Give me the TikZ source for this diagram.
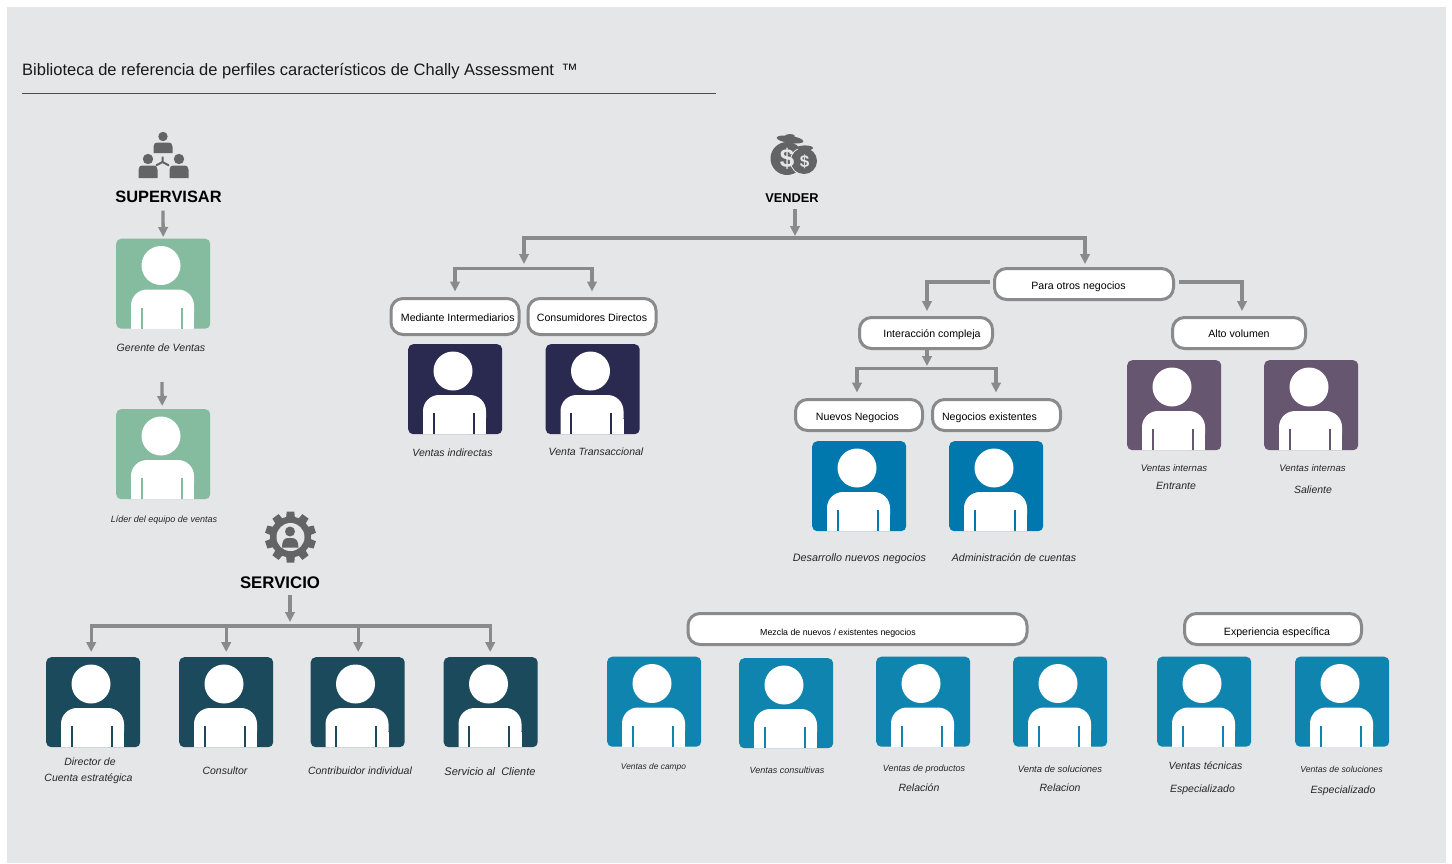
\documentclass[tikz,border=0pt]{standalone}
\usepackage{fontspec}
\setmainfont{Liberation Sans}
\usetikzlibrary{arrows.meta,calc}
\definecolor{bgc}{HTML}{E5E6E8}
\definecolor{linec}{HTML}{8A8A8A}
\definecolor{iconc}{HTML}{636466}
\definecolor{cgreen}{HTML}{85BB9F}
\definecolor{cnavy}{HTML}{2A2950}
\definecolor{cblue}{HTML}{0077AD}
\definecolor{cpurple}{HTML}{66566F}
\definecolor{cteal}{HTML}{1A4A5C}
\definecolor{clight}{HTML}{0F84AF}
\tikzset{
  arr/.style={draw=linec,line width=3.3pt,-{Triangle[length=10pt,width=9.5pt]}},
  pill/.style={draw=linec,line width=3pt,fill=white,rounded corners=12pt,inner sep=0pt,text=black,font=\fontsize{10.6}{12}\selectfont},
  cardbox/.style={anchor=north west,minimum width=94pt,minimum height=90pt,inner sep=0pt,rounded corners=5pt,draw=none},
  lab/.style={inner sep=0pt,yshift=-1pt,font=\fontsize{10.5}{12}\selectfont\itshape,text=black!85},
  head/.style={inner sep=0pt,font=\bfseries,text=black},
  icon/.style={fill=iconc,draw=none}
}
% text inside a pill: shift in x from the centre, raise of the baseline, text
\newcommand{\ptxt}[3]{\raisebox{#2}[0pt][0pt]{\hspace*{#1}\hspace*{#1}#3}}
% #1 name, #2 x, #3 y, #4 colour
\newcommand{\personcard}[4]{%
  \node[cardbox,fill=#4] (#1) at (#2,#3) {};
  \begin{scope}[shift={(#2,#3)}]
    \fill[white] (45,27) circle (19.5);
    \fill[white,rounded corners=16pt] (15,90) -- (15,51) -- (78,51) -- (78,90) [sharp corners] -- cycle;
    \fill[white] (15,75) rectangle (78,90);
    \fill[#4] (24.7,69) rectangle (26.9,90);
    \fill[#4] (64.7,69) rectangle (66.9,90);
  \end{scope}}
% small icon figure: x centre, y of head centre, head r, half width, body top, body bottom
\newcommand{\iconperson}[6]{%
  \fill[icon] (#1,#2) circle (#3);
  \fill[icon] (#1-#4,#6) -- (#1-#4,#5+4) .. controls (#1-#4,#5+1) and (#1-#4+2,#5) .. (#1-#4+4,#5) -- (#1+#4-4,#5) .. controls (#1+#4-2,#5) and (#1+#4,#5+1) .. (#1+#4,#5+4) -- (#1+#4,#6) -- cycle;}
\begin{document}
\begin{tikzpicture}[x=1pt,y=-1pt]
\useasboundingbox (0,0) rectangle (1452,863);
\fill[white] (0,0) rectangle (1452,863);
\fill[bgc] (7,7) rectangle (1446,863);

% title
\node[anchor=base west,inner sep=0pt,font=\fontsize{16.5}{18}\selectfont,text=black!90] (title) at (22,75.5) {Biblioteca de referencia de perfiles característicos de Chally Assessment \,™};
\coordinate (ruleL) at (22,93.5);
\coordinate (ruleR) at (716,93.5);
\draw[black!70,line width=0.7pt] (ruleL) -- (ruleR);

% ---- icons
\iconperson{163}{136.5}{4.7}{9.5}{142.5}{153}
\iconperson{148}{159}{5.2}{9.5}{165.5}{178}
\iconperson{179}{159}{5.2}{9.5}{165.5}{178}
\draw[iconc,line width=2pt] (162.5,162) -- (162.5,156.5) (162.5,162) -- (156,165.5) (162.5,162) -- (169,165.5);

% money bags
\fill[icon] (787,158.5) circle (16.5);
\fill[icon,rotate around={-8:(790,139.5)}] (790,139.5) ellipse (13.5 and 3.6);
\fill[icon] (790,136) ellipse (5 and 2);
\draw[bgc,line width=1pt] (804,161) circle (13.6);
\fill[icon] (804,161) circle (13);
\fill[icon] (805,148) ellipse (8 and 2.6);
\node[inner sep=0pt,text=bgc,font=\fontsize{26}{26}\bfseries\selectfont] (dollarA) at (787,158.5) {\$};
\node[inner sep=0pt,text=bgc,font=\fontsize{17}{17}\bfseries\selectfont] (dollarB) at (804.5,162) {\$};

% gear
\foreach \a in {0,36,...,324} {
  \fill[icon,rotate around={\a:(290.5,537)}] (285.5,525) -- (286.7,511.5) -- (294.3,511.5) -- (295.5,525) -- cycle;
}
\fill[icon] (290.5,537) circle (20.5);
\fill[bgc] (290.5,537) circle (14);
\fill[icon] (290,531.5) circle (5);
\fill[icon] (282,547.5) .. controls (282,541) and (284,538) .. (288,538) -- (292,538) .. controls (296,538) and (298.5,541) .. (298.5,547.5) -- cycle;

% ---- headings
\node[head,font=\fontsize{16.4}{18}\bfseries\selectfont] (sup) at (168.5,196.5) {SUPERVISAR};
\node[head,font=\fontsize{12.8}{14}\bfseries\selectfont] (ven) at (792,198.5) {VENDER};
\node[head,font=\fontsize{16.8}{18}\bfseries\selectfont] (ser) at (280,582.5) {SERVICIO};

% ---- cards
\personcard{gerente}{116}{238.5}{cgreen}
\personcard{lider}{116}{409}{cgreen}
\personcard{indir}{408}{344}{cnavy}
\personcard{trans}{545.5}{344}{cnavy}
\personcard{desar}{812}{441}{cblue}
\personcard{admin}{949}{441}{cblue}
\personcard{ient}{1127}{360}{cpurple}
\personcard{isal}{1264}{360}{cpurple}
\personcard{direc}{46}{657}{cteal}
\personcard{consu}{179}{657}{cteal}
\personcard{contr}{310.5}{657}{cteal}
\personcard{servi}{443.5}{657}{cteal}
\personcard{campo}{607}{656.5}{clight}
\personcard{consv}{739}{658}{clight}
\personcard{produ}{876}{656.5}{clight}
\personcard{soluc}{1013}{656.5}{clight}
\personcard{tecni}{1157}{656.5}{clight}
\personcard{solue}{1295}{656.5}{clight}

% ---- pills
\node[pill,minimum width=128pt,minimum height=36pt] (medi) at (455,316.5) {\ptxt{2.8pt}{-5.2pt}{Mediante Intermediarios}};
\node[pill,minimum width=128pt,minimum height=36pt] (cdir) at (592,316.5) {\ptxt{0pt}{-4.5pt}{Consumidores Directos}};
\node[pill,minimum width=179pt,minimum height=31pt] (para) at (1084,284) {\ptxt{-5.5pt}{-5pt}{Para otros negocios}};
\node[pill,minimum width=133pt,minimum height=31pt] (inte) at (926,333) {\ptxt{6pt}{-4pt}{Interacción compleja}};
\node[pill,minimum width=133pt,minimum height=31pt] (alto) at (1239,333) {\ptxt{0pt}{-4pt}{Alto volumen}};
\node[pill,minimum width=127pt,minimum height=31pt] (nuev) at (859,415) {\ptxt{-1.5pt}{-5pt}{Nuevos Negocios}};
\node[pill,minimum width=128pt,minimum height=31pt] (nexi) at (996.5,415) {\ptxt{-7pt}{-5pt}{Negocios existentes}};
\node[pill,minimum width=339pt,minimum height=31pt,font=\fontsize{8.8}{10}\selectfont] (mezc) at (857.5,629) {\ptxt{-19.5pt}{-6pt}{Mezcla de nuevos / existentes negocios}};
\node[pill,minimum width=177pt,minimum height=31pt] (expe) at (1273,629) {\ptxt{4pt}{-6pt}{Experiencia específica}};

% ---- connectors
\draw[arr] ([xshift=-5.5pt,yshift=-8pt]sup.south) -- ([yshift=1.5pt]gerente.north);
\coordinate (gap) at (162,382);
\draw[arr] (gap) -- ([xshift=-1pt,yshift=3pt]lider.north);

\coordinate (vb) at (795,238);
\coordinate (vl) at (524,264);
\coordinate (vr) at (1085,264);
\draw[arr] ([xshift=3pt,yshift=-6pt]ven.south) -- (795,236);
\draw[arr] (vb) -| (vl);
\draw[arr] (vb) -| (vr);

\coordinate (mb) at (524,268.5);
\draw[arr] (mb) -| ([yshift=5.5pt]medi.north);
\draw[arr] (mb) -| ([yshift=5.5pt]cdir.north);

\draw[arr] ([xshift=-3pt,yshift=2pt]para.west) -| ([xshift=1pt,yshift=5pt]inte.north);
\draw[arr] ([xshift=4pt,yshift=2pt]para.east) -| ([xshift=3pt,yshift=5pt]alto.north);

\coordinate (ib) at (927,368.5);
\draw[arr] ([xshift=1pt]inte.south) -- (927,366);
\draw[arr] (ib) -| ([xshift=-2pt,yshift=5.5pt]nuev.north);
\draw[arr] (ib) -| ([xshift=-0.5pt,yshift=5.5pt]nexi.north);

\coordinate (sb) at (290,626);
\draw[arr] ([xshift=10pt,yshift=-6pt]ser.south) -- (290,622);
\draw[arr] (sb) -| ([xshift=-2pt,yshift=5pt]direc.north);
\draw[arr] (sb) -| ([xshift=0pt,yshift=5pt]consu.north);
\draw[arr] (sb) -| ([xshift=0.5pt,yshift=5pt]contr.north);
\draw[arr] (sb) -| ([xshift=-0.5pt,yshift=5pt]servi.north);

% ---- labels
\node[lab,font=\fontsize{10.6}{12}\selectfont\itshape] (l1) at (161,347) {Gerente de Ventas};
\node[lab,font=\fontsize{9}{10}\selectfont\itshape] (l2) at (164,519) {Líder del equipo de ventas};
\node[lab] (l3) at (452.5,452) {Ventas indirectas};
\node[lab] (l4) at (596,451) {Venta Transaccional};
\node[lab,font=\fontsize{10.8}{12}\selectfont\itshape] (l5) at (859.5,558) {Desarrollo nuevos negocios};
\node[lab,font=\fontsize{10.6}{12}\selectfont\itshape] (l6) at (1014,557) {Administración de cuentas};
\node[lab,font=\fontsize{9.6}{10}\selectfont\itshape] (l7) at (1174,467.5) {Ventas internas};
\node[lab] (l8) at (1176,485) {Entrante};
\node[lab,font=\fontsize{9.6}{10}\selectfont\itshape] (l9) at (1312.5,467.5) {Ventas internas};
\node[lab] (l10) at (1313,489) {Saliente};
\node[lab] (l11) at (90,761) {Director de};
\node[lab] (l12) at (88.5,778) {Cuenta estratégica};
\node[lab] (l13) at (225,770) {Consultor};
\node[lab] (l14) at (360,770) {Contribuidor individual};
\node[lab,font=\fontsize{11}{12}\selectfont\itshape] (l15) at (490,771) {Servicio al\ \ Cliente};
\node[lab,font=\fontsize{8.4}{10}\selectfont\itshape] (l16) at (653.5,766) {Ventas de campo};
\node[lab,font=\fontsize{9}{10}\selectfont\itshape] (l17) at (787,769) {Ventas consultivas};
\node[lab,font=\fontsize{9}{10}\selectfont\itshape] (l18) at (924,768) {Ventas de productos};
\node[lab] (l19) at (919,787) {Relación};
\node[lab,font=\fontsize{9.4}{10}\selectfont\itshape] (l20) at (1060,768) {Venta de soluciones};
\node[lab] (l21) at (1060,787) {Relacion};
\node[lab] (l22) at (1205.5,765) {Ventas técnicas};
\node[lab] (l23) at (1202.5,789) {Especializado};
\node[lab,font=\fontsize{8.7}{10}\selectfont\itshape] (l24) at (1341.5,768) {Ventas de soluciones};
\node[lab] (l25) at (1343,790) {Especializado};
\end{tikzpicture}
\end{document}
